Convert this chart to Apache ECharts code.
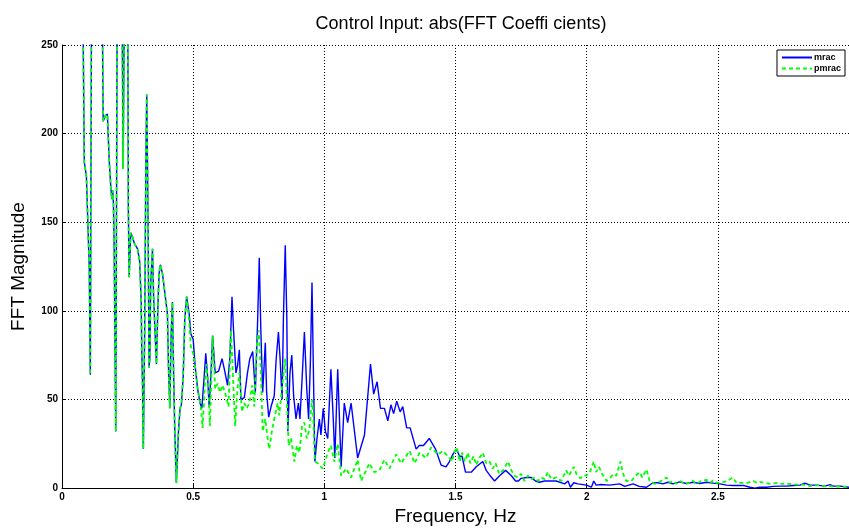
<!DOCTYPE html>
<html>
<head>
<meta charset="utf-8">
<script src="https://cdn.jsdelivr.net/npm/echarts@6/dist/echarts.min.js"></script>
<style>
html,body{margin:0;padding:0;background:#fff;}
#chart{width:849px;height:531px;}
</style>
</head>
<body>
<div id="chart"></div>
<script>
// Shared low-frequency part (both controllers coincide), [Hz, magnitude]; values > 250 are off the top of the axes
var lowBand = [[0.078,300],[0.082,300],[0.085,184],[0.093,176],[0.100,143],[0.104,124],[0.108,64],[0.113,300],
[0.152,300],[0.157,207],[0.165,210],[0.173,211],[0.180,185],[0.186,170],[0.190,163],[0.193,168],[0.196,161],[0.199,134],[0.205,32],[0.211,300],
[0.228,300],[0.233,180],[0.239,300],[0.250,300],[0.253,157],[0.256,119],[0.262,144],[0.268,142],[0.276,138],[0.288,135],[0.296,128],[0.302,105],[0.304,78],[0.307,59],[0.310,22],[0.315,87],[0.320,189],[0.323,222],[0.328,152],[0.332,68],[0.335,74],[0.338,115],[0.345,135],[0.349,109],[0.355,87],[0.360,70],[0.365,100],[0.370,121],[0.375,126],[0.383,121],[0.393,109],[0.402,98],[0.406,68],[0.411,45],[0.416,87],[0.421,105],[0.425,68],[0.430,32],[0.436,3],[0.444,32],[0.450,45],[0.455,47],[0.462,63],[0.468,95]];

var mracHigh = [[0.475,108],[0.485,98],[0.491,87],[0.500,84],[0.508,68],[0.517,56],[0.526,48],[0.533,45],[0.542,63],[0.548,76],[0.555,63],[0.561,46],[0.568,65],[0.574,86],[0.584,65],[0.597,66],[0.610,73],[0.619,67],[0.631,58],[0.640,74],[0.648,108],[0.654,89],[0.663,65],[0.669,69],[0.676,78],[0.682,50],[0.695,51],[0.707,65],[0.716,73],[0.727,77],[0.737,54],[0.746,96],[0.752,130],[0.758,89],[0.765,54],[0.775,82],[0.780,54],[0.788,40],[0.797,46],[0.809,52],[0.816,72],[0.825,88],[0.831,74],[0.839,50],[0.844,96],[0.851,137],[0.857,96],[0.861,32],[0.869,65],[0.876,75],[0.883,52],[0.892,39],[0.901,48],[0.907,39],[0.915,61],[0.924,88],[0.933,56],[0.940,39],[0.947,72],[0.953,116],[0.958,69],[0.964,15],[0.972,28],[0.981,39],[0.987,30],[0.996,45],[1.004,32],[1.013,28],[1.025,67],[1.034,39],[1.040,17],[1.051,67],[1.064,12],[1.076,48],[1.089,37],[1.102,48],[1.127,17],[1.153,30],[1.176,70],[1.188,53],[1.201,60],[1.214,45],[1.229,45],[1.242,38],[1.254,47],[1.264,42],[1.276,49],[1.289,43],[1.299,46],[1.314,34],[1.327,34],[1.350,22],[1.362,24],[1.378,24],[1.400,28],[1.424,22],[1.445,13],[1.464,12],[1.477,15],[1.490,19],[1.503,22],[1.516,18],[1.525,18],[1.538,9],[1.560,9],[1.579,12],[1.604,15],[1.617,10],[1.632,7],[1.649,4],[1.668,7],[1.691,10],[1.713,7],[1.729,4],[1.740,4],[1.750,5.5],[1.772,6],[1.789,6],[1.805,4],[1.820,3.3],[1.840,4],[1.860,4],[1.884,4],[1.916,2.4],[1.929,4],[1.938,0.5],[1.951,3],[1.967,2.4],[1.999,1.7],[2.018,0.5],[2.027,4],[2.036,1.7],[2.055,2],[2.087,1.7],[2.126,2.4],[2.145,1],[2.177,2.4],[2.200,1],[2.228,0.5],[2.253,3],[2.272,3],[2.291,2.4],[2.310,3.3],[2.329,2.4],[2.355,3.5],[2.380,2.6],[2.406,3.3],[2.431,2.6],[2.457,3.3],[2.482,2.8],[2.508,2.4],[2.533,1.7],[2.559,1.5],[2.597,1.5],[2.622,0.5],[2.641,0],[2.660,0.5],[2.686,0.5],[2.711,1],[2.737,1.1],[2.762,1.1],[2.788,1.5],[2.813,1.7],[2.832,2.8],[2.851,1.7],[2.877,1.7],[2.908,1.1],[2.928,2],[2.941,1.1],[2.966,1.1],[3.000,0.5]];

var pmracHigh = [[0.475,108],[0.485,94],[0.491,80],[0.500,76],[0.508,68],[0.517,56],[0.529,46],[0.536,34],[0.545,59],[0.551,70],[0.558,56],[0.564,35],[0.574,86],[0.584,56],[0.593,59],[0.602,54],[0.612,58],[0.625,52],[0.635,46],[0.644,89],[0.650,69],[0.660,35],[0.669,56],[0.676,65],[0.686,43],[0.695,48],[0.704,45],[0.714,48],[0.725,58],[0.733,46],[0.742,80],[0.750,89],[0.758,65],[0.765,32],[0.775,39],[0.784,28],[0.790,22],[0.800,32],[0.809,39],[0.822,48],[0.828,41],[0.841,60],[0.851,73],[0.857,50],[0.864,24],[0.873,28],[0.886,15],[0.895,24],[0.905,20],[0.915,35],[0.924,37],[0.933,28],[0.943,33],[0.953,50],[0.958,39],[0.964,15],[0.975,14],[0.994,11],[1.013,20],[1.025,24],[1.038,15],[1.051,25],[1.064,7],[1.083,11],[1.102,6],[1.127,16],[1.140,4],[1.172,14],[1.190,9],[1.210,10],[1.229,16],[1.248,11],[1.274,19],[1.293,14],[1.325,21],[1.344,14],[1.363,20],[1.388,17],[1.407,23],[1.433,19],[1.452,21],[1.477,17],[1.487,15],[1.495,20],[1.505,23],[1.516,15],[1.525,20],[1.536,15],[1.547,20],[1.556,14],[1.569,18],[1.579,13],[1.591,17],[1.604,20],[1.617,14],[1.630,15],[1.642,11],[1.653,14],[1.666,8],[1.681,10],[1.700,15],[1.713,10],[1.725,7],[1.738,6],[1.750,8],[1.763,4],[1.776,7],[1.789,5],[1.802,6],[1.814,4],[1.827,6],[1.840,5],[1.852,9],[1.865,5],[1.884,6],[1.903,4],[1.922,10],[1.932,7],[1.951,12],[1.961,8],[1.976,5.5],[1.986,7],[1.999,7],[2.012,9],[2.027,15],[2.036,9],[2.047,12],[2.059,8],[2.076,4],[2.087,5.5],[2.103,8],[2.113,7],[2.129,15],[2.139,8],[2.151,4],[2.170,4],[2.187,7],[2.202,9],[2.212,6],[2.228,10.5],[2.240,4],[2.259,2.4],[2.278,3.5],[2.304,6],[2.317,3],[2.329,4],[2.342,2.4],[2.355,4],[2.374,2.4],[2.393,3],[2.403,4.3],[2.418,2.4],[2.437,4],[2.457,4.7],[2.470,3],[2.482,4.3],[2.495,3],[2.514,3],[2.536,4],[2.556,6],[2.571,3],[2.597,3],[2.612,3],[2.635,4],[2.648,3],[2.660,3.5],[2.679,3],[2.698,2.4],[2.724,2.8],[2.749,2.4],[2.775,2.4],[2.800,2],[2.826,2],[2.851,1.1],[2.877,1.7],[2.902,1.1],[2.928,1.1],[2.953,0.8],[2.979,0.8],[3.000,0.8]];

var seriesNames = ['mrac', 'pmrac'];
var xTicks = [0, 0.5, 1, 1.5, 2, 2.5];
var yTicks = [0, 50, 100, 150, 200, 250];

var mrac = lowBand.concat(mracHigh);
var pmrac = lowBand.concat(pmracHigh);

var chart = echarts.init(document.getElementById('chart'), null, {renderer: 'canvas'});
var font = 'Liberation Sans, Arial, sans-serif';
var solidIcon = 'path://M0,0h30v2h-30z';
var dashIcon = 'path://M0,0h4v2h-4z M7,0h4v2h-4z M14,0h4v2h-4z M21,0h4v2h-4z M28,0h2v2h-2z';
chart.setOption({
  animation: false,
  backgroundColor: '#fff',
  title: {
    text: 'Control Input: abs(FFT Coeffi cients)',
    left: 456, top: 10, textAlign: 'center',
    textStyle: {fontFamily: font, fontSize: 18, fontWeight: 'normal', color: '#000'}
  },
  legend: {
    orient: 'vertical', right: 4, top: 50,
    backgroundColor: '#fff', borderColor: '#000', borderWidth: 1,
    padding: [3, 4, 3, 5], itemGap: 2, itemWidth: 30, itemHeight: 2,
    textStyle: {fontFamily: 'Liberation Sans Narrow, Liberation Sans, sans-serif', fontSize: 9, fontWeight: 'bold', color: '#000', padding: [0, 0, 0, -3]},
    data: [
      {name: seriesNames[0], icon: solidIcon, itemStyle: {color: '#0000ff'}},
      {name: seriesNames[1], icon: dashIcon, itemStyle: {color: '#00ff00'}}
    ]
  },
  grid: {left: 62, right: -2, top: 45, bottom: 34, containLabel: false},
  xAxis: {
    type: 'value', min: 0, max: 3, interval: 0.5,
    name: 'Frequency, Hz', nameLocation: 'middle', nameGap: 12,
    nameTextStyle: {fontFamily: font, fontSize: 19, color: '#000'},
    axisLine: {show: true, onZero: false, lineStyle: {color: '#000', width: 1}},
    axisTick: {show: true, inside: true, length: 4, lineStyle: {color: '#000'}},
    axisLabel: {
      show: true, margin: 4, showMaxLabel: false,
      fontFamily: font, fontSize: 10, fontWeight: 'bold', color: '#000',
      formatter: function (v) { return xTicks.indexOf(v) >= 0 ? String(v) : ''; }
    },
    splitLine: {show: true, lineStyle: {color: '#000', type: [1, 2], width: 1}}
  },
  yAxis: {
    type: 'value', min: 0, max: 250, interval: 50,
    name: 'FFT Magnitude', nameLocation: 'middle', nameGap: 34,
    nameTextStyle: {fontFamily: font, fontSize: 19, color: '#000'},
    axisLine: {show: true, lineStyle: {color: '#000', width: 1}},
    axisTick: {show: true, inside: true, length: 4, lineStyle: {color: '#000'}},
    axisLabel: {
      show: true, margin: 4,
      fontFamily: font, fontSize: 10, fontWeight: 'bold', color: '#000',
      formatter: function (v) { return yTicks.indexOf(v) >= 0 ? String(v) : ''; }
    },
    splitLine: {show: true, lineStyle: {color: '#000', type: [1, 2], width: 1}}
  },
  series: [
    {
      name: seriesNames[0], type: 'line', data: mrac, symbol: 'none', clip: true,
      lineStyle: {color: '#0000ff', width: 1.4}, itemStyle: {color: '#0000ff'}
    },
    {
      name: seriesNames[1], type: 'line', data: pmrac, symbol: 'none', clip: true,
      lineStyle: {color: '#00ff00', width: 1.8, type: [4, 3]}, itemStyle: {color: '#00ff00'}
    }
  ]
});
</script>
</body>
</html>
